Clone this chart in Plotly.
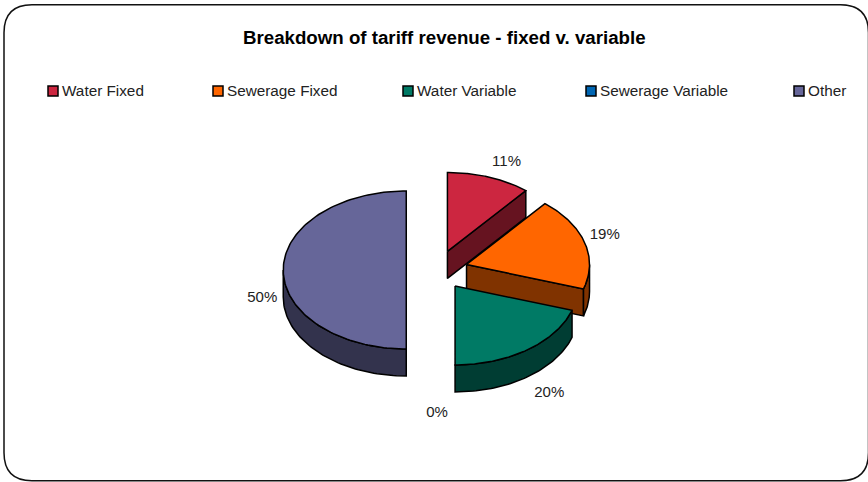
import numpy as np
import plotly.graph_objects as go

# Chart content
categories = ["Water Fixed", "Sewerage Fixed", "Water Variable", "Sewerage Variable", "Other"]
shares = [11, 19, 20, 0, 50]
title_text = "Breakdown of tariff revenue - fixed v. variable"

# Styling
top_colors = ["#CC2640", "#FF6600", "#007A65", "#0066B3", "#666699"]
side_colors = ["#661320", "#803300", "#003D33", "#003359", "#33334D"]
legend_x = [53, 218, 408, 591, 799]
legend_y = 91
legend_text_gap = 9
label_nudge = [(10, -4), (-1, -14), (9, 8), (0, 4), (1, 14)]

# Pie geometry, in page pixels
CX, CY = 437.0, 270.0
RX, RY = 123.0, 79.0
DEPTH = 27.0
EXPLODE = 0.25
LABEL_RX, LABEL_RY, LABEL_DROP = 145.0, 105.0, 14.0
EDGE = dict(color="#000000", width=1.5)


def rim(apex, deg, drop=0.0):
    """Point(s) on the rim of a slice, clockwise in degrees from twelve o'clock."""
    rad = np.radians(deg)
    return apex[0] + RX * np.sin(rad), apex[1] - RY * np.cos(rad) + drop


def add_poly(fig, xs, ys, color):
    fig.add_trace(go.Scatter(x=xs, y=ys, mode="lines", fill="toself", fillcolor=color,
                             line=EDGE, hoverinfo="skip", showlegend=False))


fig = go.Figure()

# Work out each slice's angular span and its exploded apex
total = sum(shares)
ends = np.cumsum(shares) / total * 360.0
starts = ends - np.array(shares) / total * 360.0
mids = (starts + ends) / 2.0
apexes = [(CX + EXPLODE * RX * np.sin(np.radians(m)), CY - EXPLODE * RY * np.cos(np.radians(m))) for m in mids]

# Painted back to front: the left half first, then clockwise from the top
for i in [4, 0, 1, 2]:
    start, end, apex = starts[i], ends[i], apexes[i]

    # Cut face along the slice's clockwise edge
    if 0 < end < 180:
        ex, ey = rim(apex, end)
        add_poly(fig, [apex[0], ex, ex, apex[0], apex[0]],
                 [apex[1], ey, ey + DEPTH, apex[1] + DEPTH, apex[1]], side_colors[i])

    # Outer wall on the part of the rim facing the viewer
    lo, hi = max(start, 90.0), min(end, 270.0)
    if hi > lo:
        arc = np.linspace(lo, hi, 60)
        ax, ay = rim(apex, arc)
        bx, by = rim(apex, arc[::-1], DEPTH)
        add_poly(fig, np.r_[ax, bx, ax[0]], np.r_[ay, by, ay[0]], side_colors[i])

    # Top face
    arc = np.linspace(start, end, 120)
    tx, ty = rim(apex, arc)
    add_poly(fig, np.r_[apex[0], tx, apex[0]], np.r_[apex[1], ty, apex[1]], top_colors[i])

# Percentage labels around the pie
label_x = [a[0] + LABEL_RX * np.sin(np.radians(m)) + n[0] for a, m, n in zip(apexes, mids, label_nudge)]
label_y = [a[1] - LABEL_RY * np.cos(np.radians(m)) + LABEL_DROP + n[1] for a, m, n in zip(apexes, mids, label_nudge)]
fig.add_trace(go.Scatter(x=label_x, y=label_y, mode="text", text=[f"{v}%" for v in shares],
                         textposition="middle center",
                         textfont=dict(family="Liberation Sans", size=15, color="#222222"),
                         hoverinfo="skip", showlegend=False))

# Legend row: swatches, then their names
fig.add_trace(go.Scatter(x=legend_x, y=[legend_y] * len(categories), mode="markers",
                         marker=dict(symbol="square", size=10, color=top_colors,
                                     line=dict(color="#000000", width=1.5)),
                         hoverinfo="skip", showlegend=False))
fig.add_trace(go.Scatter(x=[x + legend_text_gap for x in legend_x], y=[legend_y + 0.8] * len(categories),
                         mode="text", text=categories, textposition="middle right",
                         textfont=dict(family="Liberation Sans", size=15.3, color="#222222"),
                         hoverinfo="skip", showlegend=False))

# Rounded chart frame
L, T, R, B, C = 4, 4.7, 868.5, 480.7, 28
frame = (f"M {L + C} {T} L {R - C} {T} Q {R} {T} {R} {T + C} L {R} {B - C} "
         f"Q {R} {B} {R - C} {B} L {L + C} {B} Q {L} {B} {L} {B - C} L {L} {T + C} "
         f"Q {L} {T} {L + C} {T} Z")

fig.update_layout(
    width=868, height=482, autosize=False,
    margin=dict(l=0, r=0, t=0, b=0),
    paper_bgcolor="#FFFFFF", plot_bgcolor="#FFFFFF",
    xaxis=dict(range=[0, 868], visible=False, fixedrange=True),
    yaxis=dict(range=[482, 0], visible=False, fixedrange=True),
    shapes=[dict(type="path", path=frame, xref="x", yref="y", layer="below",
                 line=dict(color="#111111", width=1.5))],
    annotations=[dict(x=444, y=37, xref="x", yref="y", text=f"<b>{title_text}</b>", showarrow=False,
                      xanchor="center", yanchor="middle",
                      font=dict(family="Liberation Sans", size=18.7, color="#000000"))],
)

fig.write_html("out.html", config={"displayModeBar": False})
